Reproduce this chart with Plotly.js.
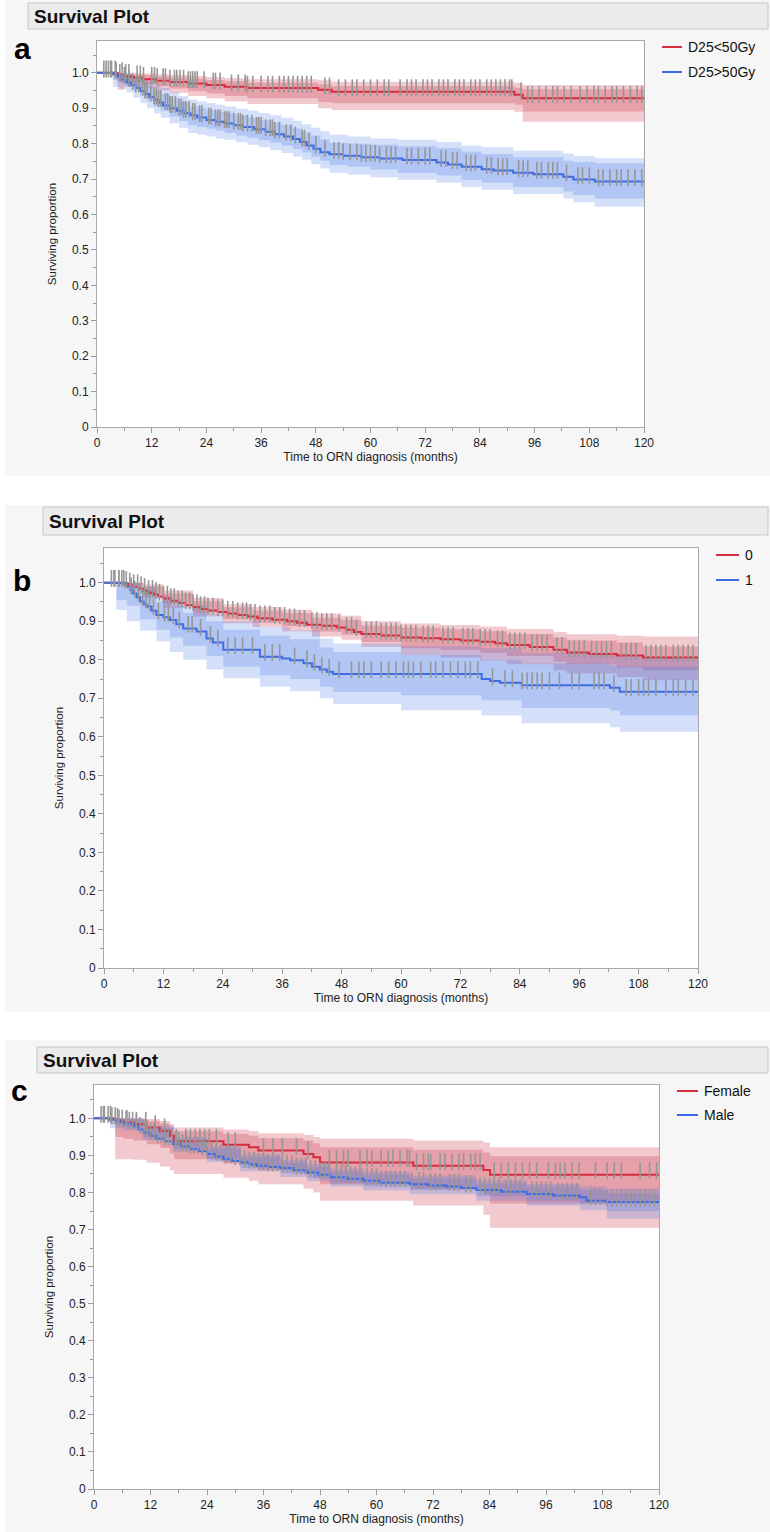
<!DOCTYPE html>
<html><head><meta charset="utf-8">
<script src="https://cdn.plot.ly/plotly-3.0.1.min.js"></script>
<style>html,body{margin:0;padding:0;background:#fff}#chart{width:770px;height:1532px}</style>
</head><body><div id="chart"></div>
<script>
// ---------------- text ----------------
const panelTitle = 'Survival Plot';
const xTitle = 'Time to ORN diagnosis (months)';
const yTitle = 'Surviving proportion';
const panelLetters = ['a', 'b', 'c'];
const groupsA = ['D25<50Gy', 'D25>50Gy'];
const groupsB = ['0', '1'];
const groupsC = ['Female', 'Male'];

// ---------------- panel a ----------------
const a0Times = [0, 4.5, 6, 8, 10, 13, 16, 20, 24, 28, 33, 48.5, 51.5, 91.6, 93.4];
const a0Surv  = [1, 0.995, 0.99, 0.986, 0.982, 0.978, 0.974, 0.97, 0.966, 0.961, 0.957, 0.952, 0.947, 0.938, 0.928];
const a0BandT = [0, 4.5, 6, 8, 10, 13, 16, 20, 24, 28, 33, 48.5, 51.5, 91.6, 93.4];
const a0OutHi = [1, 1, 1, 0.999, 0.998, 0.996, 0.994, 0.991, 0.988, 0.985, 0.982, 0.979, 0.975, 0.972, 0.966];
const a0OutLo = [1, 0.952, 0.962, 0.96, 0.957, 0.95, 0.943, 0.935, 0.928, 0.92, 0.912, 0.9, 0.895, 0.89, 0.862];
const a0InHi  = [1, 0.999, 0.997, 0.995, 0.993, 0.99, 0.987, 0.984, 0.98, 0.976, 0.972, 0.968, 0.963, 0.958, 0.954];
const a0InLo  = [1, 0.975, 0.975, 0.972, 0.968, 0.962, 0.956, 0.948, 0.942, 0.935, 0.928, 0.918, 0.914, 0.91, 0.891];
const a0Censor = [1.5, 2.5, 3.2, 4, 5.5, 6.3, 7, 8.8, 9.5, 10.2, 12, 12.6, 13.2, 14.5, 15, 16, 17, 17.5, 18.2, 19, 20, 20.5, 21, 21.5, 22, 23.5, 25.5, 26, 27, 29.5, 31, 32.5, 33, 34.2, 36, 37.5, 38.5, 40, 41, 42, 43, 44, 45, 46, 47, 50, 51, 53, 54.5, 56, 57, 58.5, 60, 61.5, 63, 64, 66.5, 68, 69, 70, 71.5, 72.5, 73.5, 75, 76, 77, 78.5, 79.5, 80.5, 82, 83, 84, 85.5, 86.5, 87.5, 88.5, 89.5, 90.5, 91, 93, 94.5, 95.5, 97, 98.5, 100, 101, 102.5, 104, 106, 107.5, 109, 110, 111.5, 113, 114, 115.5, 117, 118.5, 119.5];

const a1Times = [0, 3.5, 4.5, 5.5, 6.5, 7.5, 8.5, 9.5, 10.5, 11.5, 12.5, 13.5, 14.5, 16, 17.5, 19, 20.5, 22, 24, 26, 28, 30, 32, 34.5, 37, 39, 41, 43, 44.5, 46, 47.5, 49, 51, 54, 58, 62, 67, 74.5, 77, 80, 84.4, 87, 91.3, 95.7, 102.3, 104.5, 109.2];
const a1Surv  = [1, 0.996, 0.99, 0.982, 0.973, 0.965, 0.957, 0.949, 0.94, 0.932, 0.924, 0.916, 0.908, 0.9, 0.893, 0.886, 0.88, 0.874, 0.867, 0.862, 0.857, 0.852, 0.847, 0.841, 0.834, 0.827, 0.82, 0.813, 0.805, 0.795, 0.786, 0.776, 0.77, 0.766, 0.762, 0.758, 0.754, 0.747, 0.741, 0.735, 0.728, 0.724, 0.718, 0.714, 0.707, 0.699, 0.693];
const a1BandT = [0, 3.5, 5, 6.5, 8, 9.5, 11, 12.5, 14, 16, 18, 20, 22, 24, 26, 28, 30.5, 33, 35.5, 38, 40.5, 43, 45, 47, 49, 51, 55, 60, 66, 74.5, 80, 84.4, 91.3, 102.3, 104.5, 109.2];
const a1OutHi = [1, 1, 1, 0.997, 0.99, 0.983, 0.975, 0.965, 0.957, 0.945, 0.935, 0.925, 0.92, 0.915, 0.91, 0.905, 0.899, 0.893, 0.887, 0.88, 0.873, 0.865, 0.855, 0.845, 0.835, 0.825, 0.82, 0.815, 0.811, 0.805, 0.795, 0.79, 0.78, 0.772, 0.765, 0.759];
const a1OutLo = [1, 0.96, 0.955, 0.945, 0.93, 0.915, 0.9, 0.885, 0.873, 0.858, 0.845, 0.83, 0.825, 0.82, 0.815, 0.811, 0.804, 0.797, 0.79, 0.782, 0.774, 0.764, 0.755, 0.742, 0.73, 0.718, 0.712, 0.705, 0.698, 0.69, 0.678, 0.67, 0.658, 0.645, 0.635, 0.622];
const a1InHi  = [1, 1, 0.997, 0.99, 0.98, 0.97, 0.96, 0.95, 0.94, 0.928, 0.916, 0.905, 0.9, 0.895, 0.89, 0.886, 0.88, 0.873, 0.866, 0.86, 0.852, 0.843, 0.833, 0.823, 0.812, 0.802, 0.8, 0.797, 0.793, 0.787, 0.777, 0.771, 0.762, 0.752, 0.748, 0.745];
const a1InLo  = [1, 0.98, 0.972, 0.962, 0.95, 0.935, 0.92, 0.905, 0.893, 0.877, 0.864, 0.852, 0.847, 0.843, 0.837, 0.83, 0.823, 0.817, 0.81, 0.803, 0.794, 0.785, 0.775, 0.763, 0.752, 0.74, 0.735, 0.727, 0.717, 0.71, 0.698, 0.69, 0.678, 0.665, 0.655, 0.645];
const a1Censor = [2, 3, 4.2, 5, 6, 7, 7.8, 8.5, 9.2, 10, 10.5, 11, 11.8, 12.5, 13, 13.5, 14, 15, 15.5, 16, 16.5, 17.2, 18, 18.5, 19, 19.5, 20.2, 21, 21.5, 22.5, 23, 24.5, 25, 26, 26.5, 27, 28, 28.5, 29, 30, 31, 31.5, 32, 33, 34, 35, 35.5, 36, 37, 38, 38.5, 39, 40, 41.5, 42.5, 43.5, 45, 45.5, 46.5, 48, 50, 52, 53, 54, 55.5, 57, 58, 59, 60, 61, 62, 63.5, 64.5, 65.5, 68, 69, 70.5, 72, 73, 75.5, 76.5, 78, 79, 81, 82, 83, 85.5, 86.5, 88, 89, 90, 92.5, 93.5, 94.5, 96.5, 97.5, 99, 100, 101, 103, 105.5, 106.5, 108, 110, 111, 112.5, 114, 115, 116.5, 118, 119.5];

// ---------------- panel b ----------------
const b0Times = [0, 4, 5, 6, 7, 8, 9, 10, 11, 12, 13.5, 15, 16.5, 18, 19.5, 21, 23, 25, 27, 29, 31, 34, 37, 39, 41, 44, 47, 49, 50.5, 52, 56, 60, 64, 68, 72, 76, 79, 81.4, 86, 90.8, 93.5, 98, 103.6, 108.9];
const b0Surv  = [1, 0.997, 0.993, 0.989, 0.984, 0.979, 0.974, 0.969, 0.964, 0.959, 0.953, 0.947, 0.942, 0.937, 0.932, 0.928, 0.924, 0.92, 0.916, 0.912, 0.908, 0.904, 0.9, 0.896, 0.891, 0.888, 0.884, 0.878, 0.872, 0.867, 0.863, 0.858, 0.856, 0.853, 0.85, 0.847, 0.843, 0.838, 0.833, 0.826, 0.819, 0.815, 0.811, 0.806];
const b0BandT = [0, 4, 8, 12, 18, 24, 30, 36, 42, 48, 52, 60, 68, 76, 81.4, 90.8, 93.5, 103.6, 108.9];
const b0OutHi = [1, 1, 0.995, 0.98, 0.96, 0.944, 0.937, 0.93, 0.92, 0.914, 0.9, 0.894, 0.89, 0.886, 0.88, 0.872, 0.866, 0.862, 0.86];
const b0OutLo = [1, 0.985, 0.96, 0.935, 0.912, 0.895, 0.885, 0.874, 0.86, 0.852, 0.834, 0.812, 0.806, 0.798, 0.788, 0.772, 0.764, 0.755, 0.747];
const b0InHi  = [1, 0.999, 0.99, 0.972, 0.952, 0.936, 0.928, 0.921, 0.909, 0.903, 0.888, 0.884, 0.879, 0.874, 0.867, 0.857, 0.85, 0.845, 0.834];
const b0InLo  = [1, 0.992, 0.968, 0.946, 0.922, 0.905, 0.896, 0.887, 0.873, 0.865, 0.846, 0.83, 0.825, 0.818, 0.81, 0.795, 0.788, 0.78, 0.773];
const b0Censor = [1.5, 2.2, 3, 3.6, 4.5, 5.2, 6, 6.8, 7.5, 8.2, 9, 9.8, 10.5, 11.2, 12, 12.8, 13.5, 14.2, 15, 15.8, 16.5, 17.3, 18, 18.8, 19.5, 20.3, 21, 22, 23, 24, 25, 26, 27, 28, 28.8, 29.6, 30.5, 31.5, 32.5, 33.5, 34.5, 35.5, 36.5, 37.5, 38.5, 39.5, 40.5, 42, 43, 44, 45, 46, 47.5, 49, 50, 51, 53, 54, 55, 56, 57, 58, 59, 60, 61, 62, 63, 64.5, 65.5, 66.5, 68.5, 69.5, 70.5, 72.5, 73.5, 74.5, 76, 77, 78, 79.5, 80.5, 82, 83, 84, 85, 86.5, 87.5, 88.5, 89.5, 91.5, 92.5, 94, 95, 96, 97, 98.5, 99.5, 100.5, 101.5, 102.5, 104.5, 105.5, 106.5, 107.5, 109.5, 110.5, 111.5, 112.5, 113.5, 115, 116, 117, 118, 119];

const b1Times = [0, 4.6, 5.3, 5.9, 6.6, 7.3, 8, 8.6, 9.6, 10.6, 12, 13.3, 14.6, 16, 18.7, 20.7, 22, 24.1, 31.5, 36, 37.6, 40.3, 42, 43.6, 45, 46.3, 76.3, 78, 80, 84.4, 102.2, 104.2];
const b1Surv  = [1, 0.99, 0.981, 0.972, 0.962, 0.951, 0.944, 0.938, 0.927, 0.916, 0.91, 0.903, 0.892, 0.881, 0.873, 0.855, 0.845, 0.826, 0.808, 0.803, 0.799, 0.791, 0.782, 0.775, 0.769, 0.763, 0.75, 0.745, 0.74, 0.734, 0.727, 0.717];
const b1BandT = [0, 2.5, 4.6, 7.3, 10.6, 13.3, 16, 20.7, 24.1, 31.5, 37.6, 43.6, 46.3, 60, 76.3, 84.4, 102.2, 104.2];
const b1OutHi = [1, 1, 1, 0.99, 0.965, 0.955, 0.94, 0.92, 0.9, 0.885, 0.876, 0.855, 0.842, 0.835, 0.83, 0.818, 0.812, 0.808];
const b1OutLo = [1, 0.929, 0.9, 0.875, 0.848, 0.82, 0.8, 0.775, 0.752, 0.73, 0.718, 0.7, 0.685, 0.669, 0.655, 0.635, 0.625, 0.613];
const b1InHi  = [1, 1, 1, 0.98, 0.95, 0.94, 0.922, 0.9, 0.878, 0.862, 0.853, 0.832, 0.82, 0.812, 0.8, 0.79, 0.786, 0.782];
const b1InLo  = [1, 0.955, 0.94, 0.905, 0.878, 0.858, 0.836, 0.81, 0.782, 0.76, 0.75, 0.73, 0.717, 0.708, 0.695, 0.675, 0.668, 0.656];
const b1Censor = [2, 3, 4, 5.5, 6.2, 7, 7.8, 8.5, 9.2, 10, 11, 12.2, 13, 14, 15.2, 17, 17.8, 19.5, 21.5, 23, 25, 26.5, 28, 30, 32.5, 34, 35.5, 38.5, 41, 42.5, 44, 45.5, 47.5, 50, 51.5, 52.5, 54, 56, 57.5, 59, 60.5, 61.5, 62.5, 64, 66, 67, 68.5, 70, 71.5, 73, 74, 75.5, 78.5, 81, 82.5, 84.5, 85.5, 86.5, 87.5, 88.5, 90, 92, 94.5, 96, 99, 100, 101, 103, 105.5, 106.5, 108, 109, 110, 111.5, 113.5, 115, 116, 117.5, 119];

// ---------------- panel c ----------------
const c0Times = [0, 4.5, 6.2, 8.4, 11.2, 14, 16.1, 17, 27.5, 32.9, 34.9, 44.5, 46.6, 48, 67.8, 82.7, 84.1];
const c0Surv  = [1, 0.994, 0.989, 0.984, 0.975, 0.966, 0.953, 0.938, 0.929, 0.922, 0.913, 0.904, 0.895, 0.881, 0.872, 0.861, 0.848];
const c0BandT = [0, 4.5, 6.2, 8.4, 11.2, 14, 16.1, 17, 27.5, 32.9, 34.9, 44.5, 46.6, 48, 67.8, 82.7, 84.1];
const c0OutHi = [1, 1, 1, 1, 0.998, 0.993, 0.985, 0.975, 0.97, 0.966, 0.96, 0.955, 0.95, 0.945, 0.94, 0.935, 0.922];
const c0OutLo = [1, 0.89, 0.89, 0.888, 0.88, 0.87, 0.86, 0.85, 0.84, 0.832, 0.822, 0.81, 0.8, 0.778, 0.765, 0.74, 0.705];
const c0InHi  = [1, 1, 1, 0.998, 0.993, 0.986, 0.977, 0.965, 0.958, 0.953, 0.946, 0.94, 0.933, 0.922, 0.915, 0.908, 0.898];
const c0InLo  = [1, 0.95, 0.945, 0.94, 0.93, 0.92, 0.905, 0.89, 0.878, 0.87, 0.86, 0.85, 0.84, 0.822, 0.81, 0.795, 0.77];
const c0Censor = [2, 3.5, 5, 7, 9, 11, 13, 15, 17.5, 19.5, 20.5, 21.5, 22.5, 23.5, 24.5, 26, 28.5, 30, 36, 38, 40, 43, 45.5, 50, 51.5, 53, 54, 56.5, 58, 59, 61, 62.5, 63.5, 65, 66.5, 67, 68.5, 70, 71, 71.5, 73.5, 74.5, 76, 77.5, 78.5, 80, 81, 82, 85, 86.5, 88, 89.5, 91, 92.5, 94, 96.5, 98, 99, 100, 101.5, 103, 106.5, 109, 110.5, 112, 116, 118, 119.5];

const c1Times = [0, 3.4, 5, 6.2, 7.3, 8.4, 9.5, 10.5, 12, 13.3, 15, 16.8, 18.6, 20.4, 22.2, 24, 25.8, 27.5, 29.3, 31.1, 32.9, 34.6, 37, 39.6, 42.4, 45.2, 47.7, 50.2, 53.7, 57.2, 60.8, 67.1, 71, 74.9, 78, 81.2, 86.5, 91.9, 97.5, 103.2, 104.6, 108.9];
const c1Surv  = [1, 0.996, 0.99, 0.987, 0.984, 0.979, 0.97, 0.962, 0.953, 0.945, 0.938, 0.931, 0.924, 0.917, 0.911, 0.904, 0.897, 0.89, 0.885, 0.881, 0.876, 0.872, 0.869, 0.866, 0.86, 0.854, 0.848, 0.841, 0.837, 0.832, 0.826, 0.822, 0.819, 0.816, 0.812, 0.807, 0.802, 0.796, 0.792, 0.787, 0.778, 0.774];
const c1BandT = [0, 3.4, 6.2, 10.5, 16.8, 24, 31.1, 39.6, 45.2, 50.2, 57.2, 67.1, 81.2, 91.9, 103.2, 108.9];
const c1OutHi = [1, 1, 1, 0.98, 0.95, 0.925, 0.903, 0.888, 0.877, 0.864, 0.856, 0.846, 0.833, 0.823, 0.816, 0.81];
const c1OutLo = [1, 0.973, 0.968, 0.942, 0.91, 0.882, 0.857, 0.842, 0.83, 0.816, 0.806, 0.795, 0.778, 0.765, 0.752, 0.73];
const c1InHi  = [1, 1, 0.997, 0.974, 0.944, 0.918, 0.896, 0.881, 0.869, 0.856, 0.848, 0.838, 0.824, 0.814, 0.806, 0.797];
const c1InLo  = [1, 0.985, 0.976, 0.95, 0.918, 0.89, 0.866, 0.851, 0.839, 0.826, 0.816, 0.806, 0.79, 0.778, 0.768, 0.75];
const c1Censor = [1.5, 2.2, 3, 3.8, 4.5, 5.3, 6, 6.8, 7.5, 8.2, 9, 9.8, 10.6, 11.3, 12, 12.8, 13.5, 14.3, 15, 15.8, 16.5, 17.3, 18, 18.8, 19.6, 20.4, 21.2, 22, 23, 24, 25, 26, 27, 28, 29, 30, 31, 32, 33, 34, 35, 36, 37, 38, 39, 40, 41, 42, 43, 44, 45, 46, 47, 48, 49, 50, 51.5, 52.5, 53.5, 54.5, 55.5, 56.5, 58, 59, 60, 61, 62, 63, 64, 65, 66, 67.5, 69, 70, 71.5, 72.5, 73.5, 75.5, 76.5, 77.5, 79, 80, 82, 83, 84, 85, 86, 87.5, 88.5, 89.5, 90.5, 93, 94, 95, 96, 97, 98.5, 99.5, 100.5, 101.5, 102.5, 105.5, 106.5, 107.5, 109, 110, 111, 112, 113, 114, 115, 116, 117, 118, 119];

// ---------------- styling ----------------
const W = 770, H = 1532, XMAX = 120, YMAX = 1.09;
const FONT = '"Liberation Sans", Arial, Helvetica, sans-serif';
const COLORS = ['rgb(214,44,62)', 'rgb(62,108,226)'];
const FILLS = ['rgba(200,40,60,0.25)', 'rgba(60,110,230,0.22)'];
const CENSOR_COLOR = 'rgb(150,150,150)';
const CENSOR_OFF = 0.011;

const panels = [
  {groups: groupsA, px: [97, 644, 41, 427], bg: [5, 770, 0, 476], head: [28, 768, 3, 29], letter: [22, 48], legX: [662, 682, 686], legY: [47, 72],
   data: [[a0Times, a0Surv, a0BandT, a0OutHi, a0OutLo, a0InHi, a0InLo, a0Censor], [a1Times, a1Surv, a1BandT, a1OutHi, a1OutLo, a1InHi, a1InLo, a1Censor]]},
  {groups: groupsB, px: [104, 698, 548, 968], bg: [5, 770, 505, 1012], head: [43, 768, 507, 535], letter: [22, 580], legX: [716, 739, 743], legY: [555, 580],
   data: [[b0Times, b0Surv, b0BandT, b0OutHi, b0OutLo, b0InHi, b0InLo, b0Censor], [b1Times, b1Surv, b1BandT, b1OutHi, b1OutLo, b1InHi, b1InLo, b1Censor]]},
  {groups: groupsC, px: [94, 659, 1085, 1489], bg: [5, 770, 1040, 1532], head: [37, 768, 1047, 1073], letter: [19, 1090], legX: [677, 698, 702], legY: [1091, 1115],
   data: [[c0Times, c0Surv, c0BandT, c0OutHi, c0OutLo, c0InHi, c0InLo, c0Censor], [c1Times, c1Surv, c1BandT, c1OutHi, c1OutLo, c1InHi, c1InLo, c1Censor]]}
];

const fx = x => x / W;
const fy = y => 1 - y / H;
const ext = (t, v) => ({x: t.concat([XMAX]), y: v.concat([v[v.length - 1]])});
function survAt(t, times, surv) {
  let s = surv[0];
  for (let i = 0; i < times.length; i++) { if (times[i] <= t) s = surv[i]; else break; }
  return s;
}

const traces = [], shapes = [], annotations = [];
const layout = {
  width: W, height: H, margin: {l: 0, r: 0, t: 0, b: 0},
  paper_bgcolor: '#ffffff', plot_bgcolor: '#ffffff', showlegend: false,
  font: {family: FONT, color: '#222'}
};

panels.forEach((p, i) => {
  const xn = i === 0 ? 'x' : 'x' + (i + 1), yn = i === 0 ? 'y' : 'y' + (i + 1);
  const xk = i === 0 ? 'xaxis' : 'xaxis' + (i + 1), yk = i === 0 ? 'yaxis' : 'yaxis' + (i + 1);
  const [x0, x1, y0, y1] = p.px;
  layout[xk] = {
    domain: [fx(x0), fx(x1)], anchor: yn, range: [0, XMAX], fixedrange: true,
    tickmode: 'linear', tick0: 0, dtick: 12, ticks: 'outside', ticklen: 5, tickwidth: 1, tickcolor: '#9a9a9a',
    minor: {ticks: 'outside', ticklen: 3, tickwidth: 1, tickcolor: '#9a9a9a', tick0: 0, dtick: 6, showgrid: false},
    showline: true, linecolor: '#a8a8a8', linewidth: 1, mirror: true, showgrid: false, zeroline: false,
    tickfont: {family: FONT, size: 12, color: '#222'},
    title: {text: xTitle, font: {family: FONT, size: 12, color: '#222'}, standoff: 3}
  };
  layout[yk] = {
    domain: [fy(y1), fy(y0)], anchor: xn, range: [0, YMAX], fixedrange: true,
    tickmode: 'linear', tick0: 0, dtick: 0.1, tickformat: '.1f', labelalias: {'0.0': '0'},
    ticks: 'outside', ticklen: 5, tickwidth: 1, tickcolor: '#9a9a9a',
    minor: {ticks: 'outside', ticklen: 3, tickwidth: 1, tickcolor: '#9a9a9a', tick0: 0, dtick: 0.05, showgrid: false},
    showline: true, linecolor: '#a8a8a8', linewidth: 1, mirror: true, showgrid: false, zeroline: false,
    tickfont: {family: FONT, size: 12, color: '#222'},
    title: {text: yTitle, font: {family: FONT, size: 11.5, color: '#222'}, standoff: 12}
  };

  // backgrounds
  const [bx0, bx1, by0, by1] = p.bg;
  shapes.push({type: 'rect', xref: 'paper', yref: 'paper', layer: 'below', x0: fx(bx0), x1: fx(bx1), y0: fy(by1), y1: fy(by0), fillcolor: '#f6f6f6', line: {width: 0}});
  const [hx0, hx1, hy0, hy1] = p.head;
  shapes.push({type: 'rect', xref: 'paper', yref: 'paper', layer: 'below', x0: fx(hx0), x1: fx(hx1), y0: fy(hy1), y1: fy(hy0), fillcolor: '#ebebeb', line: {width: 1, color: '#c6c6c6'}});
  shapes.push({type: 'rect', xref: 'paper', yref: 'paper', layer: 'below', x0: fx(x0), x1: fx(x1), y0: fy(y1), y1: fy(y0), fillcolor: '#ffffff', line: {width: 0}});
  annotations.push({xref: 'paper', yref: 'paper', x: fx(hx0 + 4), y: fy((hy0 + hy1) / 2), xanchor: 'left', yanchor: 'middle', showarrow: false,
    text: panelTitle, font: {family: FONT, size: 19, weight: 'bold', color: '#111'}});
  annotations.push({xref: 'paper', yref: 'paper', x: fx(p.letter[0]), y: fy(p.letter[1]), xanchor: 'center', yanchor: 'middle', showarrow: false,
    text: panelLetters[i], font: {family: FONT, size: 30, weight: 'bold', color: '#000'}});

  // confidence bands
  p.data.forEach((d, g) => {
    const [, , bt, oh, ol, ih, il] = d;
    const common = {xaxis: xn, yaxis: yn, mode: 'lines', hoverinfo: 'skip', line: {shape: 'hv', width: 0, color: 'rgba(0,0,0,0)'}};
    let e = ext(bt, oh); traces.push(Object.assign({}, common, {x: e.x, y: e.y}));
    e = ext(bt, ol); traces.push(Object.assign({}, common, {x: e.x, y: e.y, fill: 'tonexty', fillcolor: FILLS[g]}));
    e = ext(bt, ih); traces.push(Object.assign({}, common, {x: e.x, y: e.y}));
    e = ext(bt, il); traces.push(Object.assign({}, common, {x: e.x, y: e.y, fill: 'tonexty', fillcolor: FILLS[g]}));
  });
  // survival lines
  p.data.forEach((d, g) => {
    const e = ext(d[0], d[1]);
    traces.push({xaxis: xn, yaxis: yn, x: e.x, y: e.y, mode: 'lines', name: p.groups[g], line: {shape: 'hv', width: 2, color: COLORS[g]}});
  });
  // censor marks
  p.data.forEach((d, g) => {
    const ct = d[7];
    traces.push({xaxis: xn, yaxis: yn, x: ct, y: ct.map(t => survAt(t, d[0], d[1]) + CENSOR_OFF), mode: 'markers', hoverinfo: 'skip',
      marker: {symbol: 'line-ns', size: 12, color: CENSOR_COLOR, line: {color: CENSOR_COLOR, width: 1.6}}});
  });
  // legend
  p.groups.forEach((name, g) => {
    shapes.push({type: 'line', xref: 'paper', yref: 'paper', x0: fx(p.legX[0]), x1: fx(p.legX[1]), y0: fy(p.legY[g]), y1: fy(p.legY[g]), line: {color: COLORS[g], width: 2}});
    annotations.push({xref: 'paper', yref: 'paper', x: fx(p.legX[2]), y: fy(p.legY[g]), xanchor: 'left', yanchor: 'middle', showarrow: false,
      text: name.replace(/</g, '&lt;').replace(/>/g, '&gt;'), font: {family: FONT, size: 14, color: '#111'}});
  });
});

layout.shapes = shapes;
layout.annotations = annotations;
Plotly.newPlot('chart', traces, layout, {staticPlot: true, displayModeBar: false});
</script></body></html>
